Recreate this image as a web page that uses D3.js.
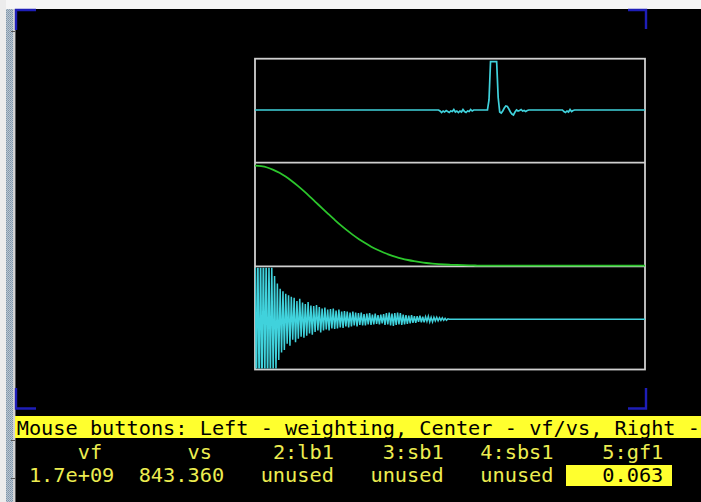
<!DOCTYPE html>
<html>
<head>
<meta charset="utf-8">
<script src="https://cdn.jsdelivr.net/npm/d3@7"></script>
<style>
  html, body { margin: 0; padding: 0; background: #000; overflow: hidden; }
  svg { display: block; }
</style>
</head>
<body>
<svg id="scope" width="701" height="502"></svg>
<script>
// ---- Spectrum (top trace): sparse bins of a 256-point spectrum, zero elsewhere
const specBins = [
  0,
  120, 121, 122, 123, 124, 125, 126, 127, 128, 129, 130, 131, 132, 133, 134, 135, 136, 137, 138, 139, 140, 141, 142, 143,
  152, 153, 154, 158, 159, 160, 161, 162, 163, 164, 165, 166, 167, 168, 169, 170, 171, 172, 173, 174, 175, 176, 177, 178, 179,
  201, 202, 203, 204, 205, 206, 207, 208, 209,
  255
];
const specValues = [
  0,
  0, -0.02, -0.05, -0.02, -0.04, -0.01, -0.03, -0.05, -0.02, -0.03, 0.01, -0.04, -0.02, -0.05, -0.02, -0.04, 0.01, -0.03, -0.05, -0.02, -0.03, 0.01, -0.02, 0,
  0, 0.2, 0.966, 0.966, 0.25, -0.04, -0.06, -0.02, 0.04, 0.08, 0.07, 0.02, -0.04, -0.08, -0.1, -0.04, 0, -0.02, -0.01, 0.01, -0.02, -0.01, -0.03, -0.01, 0,
  0, -0.03, -0.05, -0.02, -0.04, 0.01, -0.03, -0.01, 0,
  0
];

// ---- Weighting window (middle trace)
const windowBins = [0, 4, 8, 12, 16, 20, 24, 28, 32, 36, 40, 44, 48, 52, 56, 60, 64, 68, 72, 76, 80,
  84, 88, 92, 96, 100, 104, 108, 112, 116, 120, 124, 128, 132, 136, 140, 144, 148, 152, 156, 255];
const windowValues = [1.000, 0.995, 0.982, 0.959, 0.929, 0.891, 0.847, 0.798, 0.745, 0.689, 0.631,
  0.573, 0.516, 0.460, 0.406, 0.356, 0.308, 0.265, 0.226, 0.190, 0.159,
  0.132, 0.108, 0.088, 0.071, 0.057, 0.045, 0.035, 0.027, 0.021, 0.016,
  0.012, 0.009, 0.007, 0.005, 0.003, 0.002, 0.001, 0.001, 0, 0];

// ---- Free induction decay (bottom trace): recorded samples, zero after acquisition
const fidLength = 280;
const fidValues = [
  1.60, -1.50, 1.45, -1.55, 1.30, -1.40, 1.35, -1.20, 1.25, -1.30,
  1.10, -1.15, 1.05, -1.10, 0.85, -1.00, 0.70, -0.80, 0.60, -0.65,
  0.55, -0.60, 0.50, -0.48, 0.47, -0.52, 0.44, -0.40, 0.42, -0.45,
  0.36, -0.38, 0.40, -0.34, 0.33, -0.36, 0.30, -0.32, 0.34, -0.28,
  0.27, -0.30, 0.26, -0.25, 0.28, -0.22, 0.24, -0.26, 0.21, -0.22,
  0.23, -0.20, 0.19, -0.22, 0.20, -0.18, 0.21, -0.19, 0.17, -0.18,
  0.19, -0.16, 0.15, -0.17, 0.16, -0.14, 0.15, -0.16, 0.13, -0.14,
  0.15, -0.12, 0.13, -0.14, 0.12, -0.11, 0.13, -0.12, 0.10, -0.12,
  0.11, -0.10, 0.12, -0.11, 0.09, -0.10, 0.11, -0.09, 0.08, -0.10,
  0.09, -0.08, 0.10, -0.11, 0.12, -0.10, 0.13, -0.12, 0.11, -0.13,
  0.12, -0.11, 0.13, -0.10, 0.12, -0.11, 0.09, -0.10, 0.08, -0.09,
  0.07, -0.08, 0.08, -0.07, 0.06, -0.07, 0.06, -0.05, 0.07, -0.06,
  0.05, -0.06, 0.05, -0.04, 0.06, -0.05, 0.04, -0.05, 0.04, -0.03,
  0.04, -0.03, 0.03, -0.02, 0.03, -0.02, 0.02, -0.02, 0.01, 0.00
];

// ---- Status / parameter panel text
const statusLine = "Mouse buttons: Left - weighting, Center - vf/vs, Right -";
const paramNames = ["vf", "vs", "2:lb1", "3:sb1", "4:sbs1", "5:gf1"];
const paramValues = ["1.7e+09", "843.360", "unused", "unused", "unused", "0.063"];
const activeParam = 5;

// ---------------------------------------------------------------------------
const svg = d3.select("#scope");
const W = 701, H = 502;

const CYAN = "#40d2dc", GREEN = "#2cc62c", FRAME = "#cfcfcf", MARK = "#1e1eb8";
const YELLOW = "#ffff2e", TEXTY = "#ecec50";

svg.append("rect").attr("width", W).attr("height", H).attr("fill", "#000");

// window chrome: top band and left border strip
svg.append("rect").attr("x", 0).attr("y", 0).attr("width", W).attr("height", 9).attr("fill", "#f6f6f6");
const defs = svg.append("defs");
const pat = defs.append("pattern").attr("id", "stipple").attr("patternUnits", "userSpaceOnUse")
  .attr("width", 2).attr("height", 2);
pat.append("rect").attr("width", 2).attr("height", 2).attr("fill", "#b9c6d2");
pat.append("rect").attr("width", 1).attr("height", 1).attr("fill", "#7f95a8");
pat.append("rect").attr("x", 1).attr("y", 1).attr("width", 1).attr("height", 1).attr("fill", "#8ea2b4");
svg.append("rect").attr("x", 0).attr("y", 0).attr("width", 6).attr("height", H).attr("fill", "#ececec");
svg.append("rect").attr("x", 6).attr("y", 9).attr("width", 7).attr("height", H - 9).attr("fill", "url(#stipple)");
svg.append("rect").attr("x", 13).attr("y", 9).attr("width", 2).attr("height", H - 9).attr("fill", "#d4d4d4");
svg.append("rect").attr("x", 15).attr("y", 9).attr("width", 1).attr("height", H - 9).attr("fill", "#5a5a5a");
[31, 440, 478].forEach(y => svg.append("rect").attr("x", 11).attr("y", y).attr("width", 4).attr("height", 1).attr("fill", "#555"));

// corner marks of the drawing area
const corners = [
  `M16,30 V10 H36`, `M628,10 H646 V29`,
  `M16,388 V408.5 H36`, `M628,408.5 H646 V388`
];
svg.append("g").selectAll("path").data(corners).join("path")
  .attr("d", d => d).attr("fill", "none").attr("stroke", MARK).attr("stroke-width", 2.4);

// ---- panels
const box = { x0: 255, x1: 645, top: 58.7, div1: 162.7, div2: 266.3, bottom: 369.5 };

const xBin = d3.scaleLinear().domain([0, 255]).range([box.x0, box.x1]);
const ySpec = d3.scaleLinear().domain([-1, 1]).range([160, 60]);
const yWin = d3.scaleLinear().domain([0, 1]).range([265.7, 165.7]);
const xFid = d3.scaleLinear().domain([0, fidLength - 1]).range([box.x0, box.x1]);
const yFid = d3.scaleLinear().domain([-1, 1]).range([370.3, 268.3]);

// frames
const frame = svg.append("g").attr("fill", "none").attr("stroke", FRAME).attr("stroke-width", 1.8);
frame.append("rect").attr("x", box.x0).attr("y", box.top)
  .attr("width", box.x1 - box.x0).attr("height", box.bottom - box.top);
[box.div1, box.div2].forEach(y => frame.append("line")
  .attr("x1", box.x0).attr("x2", box.x1).attr("y1", y).attr("y2", y));

// spectrum
const specPts = specBins.map((b, i) => [b, specValues[i]]);
svg.append("path").datum(specPts)
  .attr("d", d3.line().x(d => xBin(d[0])).y(d => ySpec(d[1])))
  .attr("fill", "none").attr("stroke", CYAN).attr("stroke-width", 1.7).attr("stroke-linejoin", "miter");

// weighting window
const winPts = windowBins.map((b, i) => [b, windowValues[i]]);
svg.append("path").datum(winPts)
  .attr("d", d3.line().x(d => xBin(d[0])).y(d => yWin(d[1])).curve(d3.curveMonotoneX))
  .attr("fill", "none").attr("stroke", GREEN).attr("stroke-width", 1.8);

// FID, clipped to its panel
defs.append("clipPath").attr("id", "fidClip").append("rect")
  .attr("x", box.x0).attr("y", box.div2 + 1.5).attr("width", box.x1 - box.x0)
  .attr("height", box.bottom - box.div2 - 2.5);
const fidPts = fidValues.map((v, i) => [i, v]).concat([[fidLength - 1, 0]]);
svg.append("path").datum(fidPts)
  .attr("clip-path", "url(#fidClip)")
  .attr("d", d3.line().x(d => xFid(d[0])).y(d => yFid(d[1])))
  .attr("fill", "none").attr("stroke", CYAN).attr("stroke-width", 1.5);

// ---- status bar and parameter table
const FONT = "'DejaVu Sans Mono', 'Liberation Mono', monospace";
const fs = 20.27, cw = 12.2, tx0 = 16.7;

svg.append("rect").attr("x", 15).attr("y", 416).attr("width", W - 15).attr("height", 22).attr("fill", YELLOW);
svg.append("text").attr("x", tx0).attr("y", 434.5)
  .attr("font-family", FONT).attr("font-size", fs).attr("fill", "#000")
  .attr("xml:space", "preserve").style("white-space", "pre")
  .text(statusLine);

// each field is 9 columns wide and right aligned
const fieldEnd = k => tx0 + (8 + 9 * k) * cw;

svg.append("rect").attr("x", 566).attr("y", 465).attr("width", 106).attr("height", 21).attr("fill", YELLOW);

svg.append("g").selectAll("text").data(paramNames).join("text")
  .attr("x", (d, k) => fieldEnd(k) - (k < 2 ? cw : 0)).attr("y", 459)
  .attr("text-anchor", "end").attr("font-family", FONT).attr("font-size", fs)
  .attr("fill", TEXTY).text(d => d);

svg.append("g").selectAll("text").data(paramValues).join("text")
  .attr("x", (d, k) => fieldEnd(k)).attr("y", 482)
  .attr("text-anchor", "end").attr("font-family", FONT).attr("font-size", fs)
  .attr("fill", (d, k) => k === activeParam ? "#000" : TEXTY).text(d => d);
</script>
</body>
</html>
